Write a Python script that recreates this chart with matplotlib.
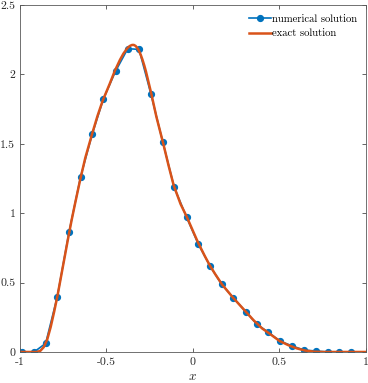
import matplotlib
matplotlib.use('Agg')
import matplotlib.pyplot as plt

# numerical solution (markers)
x_num = [-0.986, -0.916, -0.849, -0.782, -0.714, -0.647, -0.580, -0.516, -0.445,
         -0.375, -0.310, -0.241, -0.173, -0.107, -0.035, 0.032, 0.100, 0.167,
         0.234, 0.306, 0.371, 0.436, 0.504, 0.575, 0.642, 0.710, 0.778, 0.844, 0.913]
u_num = [0.0, 0.0, 0.062, 0.398, 0.865, 1.264, 1.570, 1.822, 2.024,
         2.185, 2.180, 1.856, 1.513, 1.186, 0.969, 0.777, 0.619, 0.487,
         0.391, 0.290, 0.199, 0.142, 0.078, 0.043, 0.014, 0.007, 0.0, 0.0, 0.0]

# exact solution (line)
x_ex = [-1.0, -0.95, -0.90, -0.88, -0.86, -0.84, -0.82, -0.80, -0.78, -0.76, -0.74,
        -0.72, -0.70, -0.68, -0.65, -0.62, -0.58, -0.55, -0.52, -0.48, -0.45, -0.42,
        -0.40, -0.38, -0.37, -0.36, -0.35, -0.34, -0.33, -0.32, -0.31, -0.30, -0.29,
        -0.28, -0.27, -0.24, -0.21, -0.17, -0.14, -0.11, -0.07, -0.035, 0.0, 0.03,
        0.07, 0.10, 0.13, 0.17, 0.20, 0.23, 0.27, 0.31, 0.35, 0.40, 0.44, 0.50, 0.55,
        0.60, 0.65, 0.70, 0.75, 0.80, 0.90, 1.0]
u_ex = [0.0, 0.0, 0.0, 0.008, 0.035, 0.09, 0.18, 0.29, 0.41, 0.545, 0.68,
        0.815, 0.945, 1.065, 1.24, 1.40, 1.575, 1.70, 1.81, 1.93, 2.025, 2.105,
        2.15, 2.185, 2.198, 2.207, 2.212, 2.212, 2.205, 2.19, 2.168, 2.14, 2.105,
        2.065, 2.02, 1.865, 1.695, 1.50, 1.345, 1.20, 1.065, 0.975, 0.875, 0.79,
        0.69, 0.62, 0.56, 0.485, 0.44, 0.395, 0.34, 0.285, 0.23, 0.17, 0.135, 0.08, 0.05,
        0.026, 0.010, 0.002, 0.0, 0.0, 0.0, 0.0]

xticks = [-1, -0.5, 0, 0.5, 1]
xtick_labels = ['-1', '-0.5', '0', '0.5', '1']
yticks = [0, 0.5, 1, 1.5, 2, 2.5]
ytick_labels = ['0', '0.5', '1', '1.5', '2', '2.5']

plt.rcParams['font.family'] = 'cmr10'
plt.rcParams['mathtext.fontset'] = 'cm'
plt.rcParams['axes.unicode_minus'] = False
plt.rcParams['axes.formatter.use_mathtext'] = True

blue = '#0072BD'
orange = '#D95319'
grey = '#262626'

fig = plt.figure(figsize=(3.68, 3.83), dpi=100)
ax = fig.add_axes([0.053, 0.081, 0.9416, 0.906])

ax.plot(x_num, u_num, '-o', color=blue, lw=1.2, ms=4.2, label='numerical solution')
ax.plot(x_ex, u_ex, '-', color=orange, lw=1.8, label='exact solution')

ax.set_xlim(-1, 1)
ax.set_ylim(0, 2.5)
ax.set_xticks(xticks)
ax.set_xticklabels(xtick_labels)
ax.set_yticks(yticks)
ax.set_yticklabels(ytick_labels)
ax.tick_params(direction='in', length=3, width=0.5, colors=grey, labelsize=8.5,
               top=True, right=True)
ax.tick_params(axis='x', pad=4)
ax.tick_params(axis='y', pad=3)
for s in ax.spines.values():
    s.set_color('0.35')
    s.set_linewidth(0.6)

ax.set_xlabel('$x$', fontsize=9.5, color=grey, labelpad=3)

leg = ax.legend(loc='upper right', frameon=False, fontsize=7.7, handlelength=2.0,
                handletextpad=0.1, labelspacing=0.5, borderaxespad=0.45)
for t in leg.get_texts():
    t.set_color('black')

fig.savefig('out.png', dpi=100)
